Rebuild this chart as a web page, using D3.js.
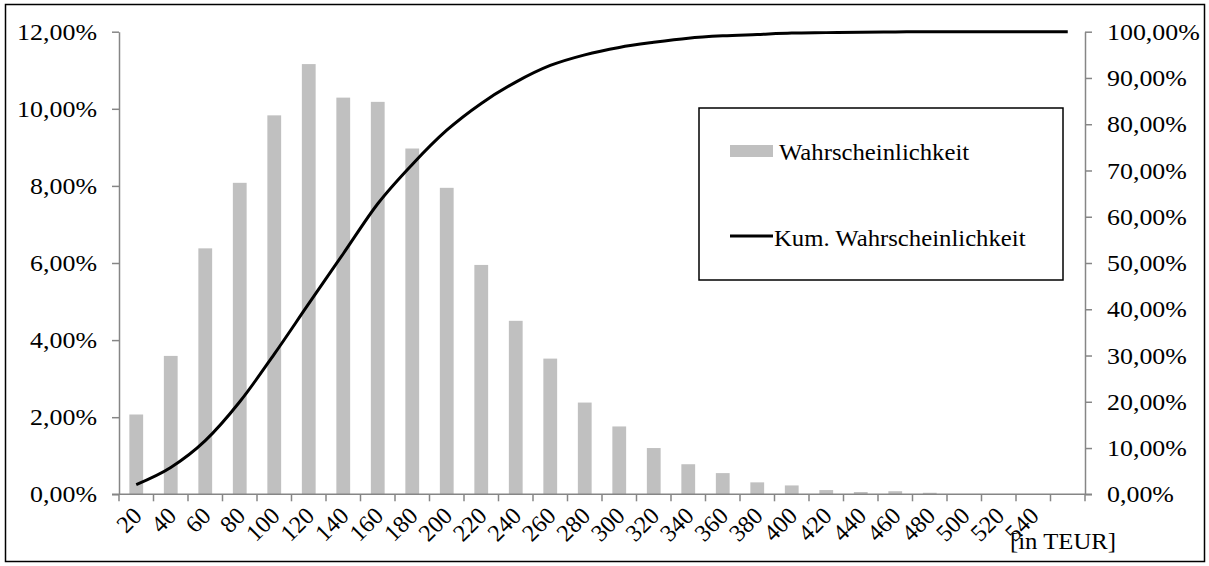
<!DOCTYPE html>
<html><head><meta charset="utf-8">
<script src="https://cdn.jsdelivr.net/npm/d3@7/dist/d3.min.js"></script>
<style>
body{margin:0;background:#fff}
text{font-family:"Liberation Serif","Times New Roman",serif;fill:#000}
</style>
</head><body>
<svg id="c" width="1209" height="566"></svg>
<script>
const categories = ["20","40","60","80","100","120","140","160","180","200","220","240","260","280","300","320","340","360","380","400","420","440","460","480","500","520","540",""];
const probability = [2.07,3.59,6.38,8.08,9.83,11.16,10.29,10.18,8.97,7.95,5.95,4.50,3.52,2.38,1.76,1.20,0.78,0.55,0.31,0.23,0.11,0.06,0.08,0.04,0,0,0,0];
const cumulative = [2.1,5.8,11.6,20.0,30.3,41.2,52.0,62.8,71.3,78.7,84.5,89.1,92.7,95.0,96.6,97.7,98.6,99.1,99.4,99.7,99.8,99.9,99.95,100,100,100,100,100];
const leftTicks = [0,2,4,6,8,10,12];
const rightTicks = [0,10,20,30,40,50,60,70,80,90,100];
const seriesNames = ["Wahrscheinlichkeit","Kum. Wahrscheinlichkeit"];
const unitLabel = "[in TEUR]";

const FS = 24, SX = 1.08, SXL = 1.03;
const m = {left:119, right:1085, top:31.7, bottom:494.3};
const axisColor = "#868686";
const svg = d3.select("#c");

svg.append("rect").attr("x",5.5).attr("y",4.5).attr("width",1199).attr("height",557)
  .attr("fill","#fff").attr("stroke","#000").attr("stroke-width",1.5);

const x = d3.scaleBand().domain(d3.range(categories.length)).range([m.left,m.right])
  .paddingInner(0.6).paddingOuter(0.3);
const yL = d3.scaleLinear().domain([0,12]).range([m.bottom,m.top]);
const yR = d3.scaleLinear().domain([0,100]).range([m.bottom,m.top]);
const fmt = v => d3.format(".2f")(v).replace(".",",") + "%";

// bars
svg.append("g").selectAll("rect").data(probability).join("rect")
  .attr("x",(d,i)=>x(i)).attr("width",x.bandwidth())
  .attr("y",d=>yL(d)).attr("height",d=>yL(0)-yL(d))
  .attr("fill","#c0c0c0");

function styleAxis(g, anchor){
  g.select(".domain").attr("stroke",axisColor).attr("stroke-width",1.5);
  g.selectAll(".tick line").attr("stroke",axisColor).attr("stroke-width",1.5);
  g.selectAll(".tick text").each(function(){
    const t = d3.select(this); const tx = +t.attr("x");
    t.attr("x",0).attr("transform",`translate(${tx},0) scale(${SX},1)`)
     .attr("font-size",FS).attr("font-family",null).attr("fill","#000").attr("text-anchor",anchor);
  });
}
// left axis
const gL = svg.append("g").attr("transform",`translate(${m.left},0)`)
  .call(d3.axisLeft(yL).tickValues(leftTicks).tickFormat(fmt).tickSize(7).tickSizeOuter(0).tickPadding(15));
styleAxis(gL,"end");
// right axis
const gR = svg.append("g").attr("transform",`translate(${m.right},0)`)
  .call(d3.axisRight(yR).tickValues(rightTicks).tickFormat(fmt).tickSize(7).tickSizeOuter(0).tickPadding(15));
styleAxis(gR,"start");

// x axis baseline and ticks at category boundaries
const gX = svg.append("g");
gX.append("line").attr("x1",m.left-7).attr("x2",m.right+7).attr("y1",yL(0)).attr("y2",yL(0))
  .attr("stroke",axisColor).attr("stroke-width",1.5);
const bounds = d3.range(categories.length+1).map(i => m.left + i*x.step());
gX.selectAll("line.tk").data(bounds).join("line").attr("class","tk")
  .attr("x1",d=>d).attr("x2",d=>d).attr("y1",yL(0)).attr("y2",yL(0)+7)
  .attr("stroke",axisColor).attr("stroke-width",1.5);
gX.selectAll("text").data(categories).join("text")
  .attr("text-anchor","end").attr("font-size",FS)
  .attr("transform",(d,i)=>`translate(${x(i)+x.bandwidth()/2+7},${yL(0)+23}) rotate(-45)`)
  .text(d=>d);

// cumulative line
const line = d3.line().x((d,i)=>x(i)+x.bandwidth()/2).y(d=>yR(d)).curve(d3.curveMonotoneX);
svg.append("path").datum(cumulative).attr("d",line).attr("fill","none")
  .attr("stroke","#000").attr("stroke-width",3).attr("stroke-linejoin","round");

// unit label
svg.append("text").attr("transform",`translate(1010,549) scale(${SXL},1)`).attr("font-size",FS).text(unitLabel);

// legend
const lg = svg.append("g");
lg.append("rect").attr("x",699).attr("y",108).attr("width",364).attr("height",172)
  .attr("fill","#fff").attr("stroke","#000").attr("stroke-width",1.5);
lg.append("rect").attr("x",730).attr("y",145).attr("width",43).attr("height",12).attr("fill","#c0c0c0");
lg.append("text").attr("transform",`translate(779,160) scale(${SXL},1)`).attr("font-size",FS).text(seriesNames[0]);
lg.append("line").attr("x1",730).attr("x2",773).attr("y1",236).attr("y2",236).attr("stroke","#000").attr("stroke-width",3);
lg.append("text").attr("transform",`translate(774,246) scale(${SXL},1)`).attr("font-size",FS).text(seriesNames[1]);
</script>
</body></html>
